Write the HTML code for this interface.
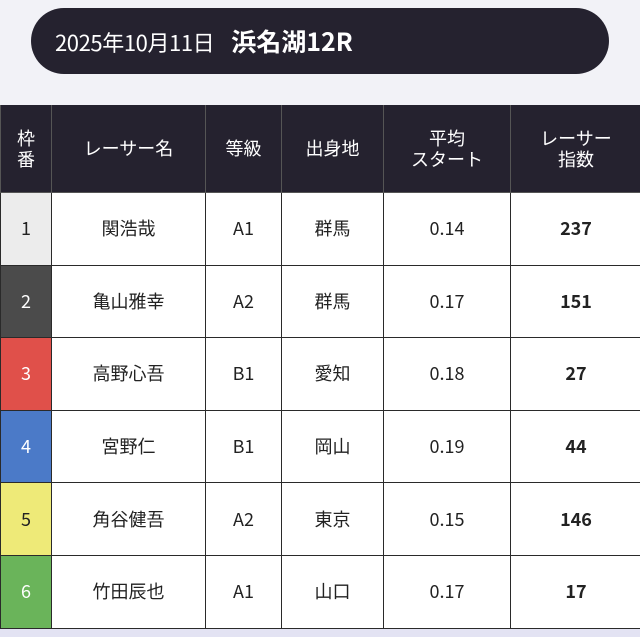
<!DOCTYPE html><html><head><meta charset="utf-8"><style>
body{margin:0;width:640px;height:637px;background:#f2f2f7;font-family:"Noto Sans CJK JP","Liberation Sans",sans-serif;position:relative;overflow:hidden}
.pill{position:absolute;left:31px;top:8px;width:578px;height:66px;border-radius:33px;background:#25222f;color:#fff;font-size:22px;line-height:66px;box-sizing:border-box;padding-left:24px;letter-spacing:-0.4px}
.pill b{font-size:25px;margin-left:17px;letter-spacing:0}
.bot{position:absolute;left:0;top:629px;width:640px;height:8px;background:#e3e3f3}
table{position:absolute;left:0;top:105px;border-collapse:collapse;width:641px;table-layout:fixed}
td,th{border:1.5px solid #2a2a2a;text-align:center;font-size:18px;color:#222;padding:0;font-weight:normal;line-height:21px}
th{background:#25222f;color:#fff;height:87px;border-color:#555;border-top:none}
tr.r td{background:#fff;height:71.6px}
td.n{font-weight:bold}
</style></head><body>
<div class="pill">2025年10月11日<b>浜名湖12R</b></div>
<table>
<colgroup><col style="width:51px"><col style="width:154px"><col style="width:76px"><col style="width:102px"><col style="width:127px"><col style="width:131px"></colgroup>
<tr><th>枠<br>番</th><th>レーサー名</th><th>等級</th><th>出身地</th><th>平均<br>スタート</th><th>レーサー<br>指数</th></tr>
<tr class="r"><td style="background:#ececec">1</td><td>関浩哉</td><td>A1</td><td>群馬</td><td>0.14</td><td class="n">237</td></tr>
<tr class="r"><td style="background:#4b4b4b;color:#fff">2</td><td>亀山雅幸</td><td>A2</td><td>群馬</td><td>0.17</td><td class="n">151</td></tr>
<tr class="r"><td style="background:#e0504a;color:#fff">3</td><td>高野心吾</td><td>B1</td><td>愛知</td><td>0.18</td><td class="n">27</td></tr>
<tr class="r"><td style="background:#4b7ac8;color:#fff">4</td><td>宮野仁</td><td>B1</td><td>岡山</td><td>0.19</td><td class="n">44</td></tr>
<tr class="r"><td style="background:#eeea78">5</td><td>角谷健吾</td><td>A2</td><td>東京</td><td>0.15</td><td class="n">146</td></tr>
<tr class="r"><td style="background:#6ab45a;color:#fff">6</td><td>竹田辰也</td><td>A1</td><td>山口</td><td>0.17</td><td class="n">17</td></tr>
</table>
<div class="bot"></div>
</body></html>
